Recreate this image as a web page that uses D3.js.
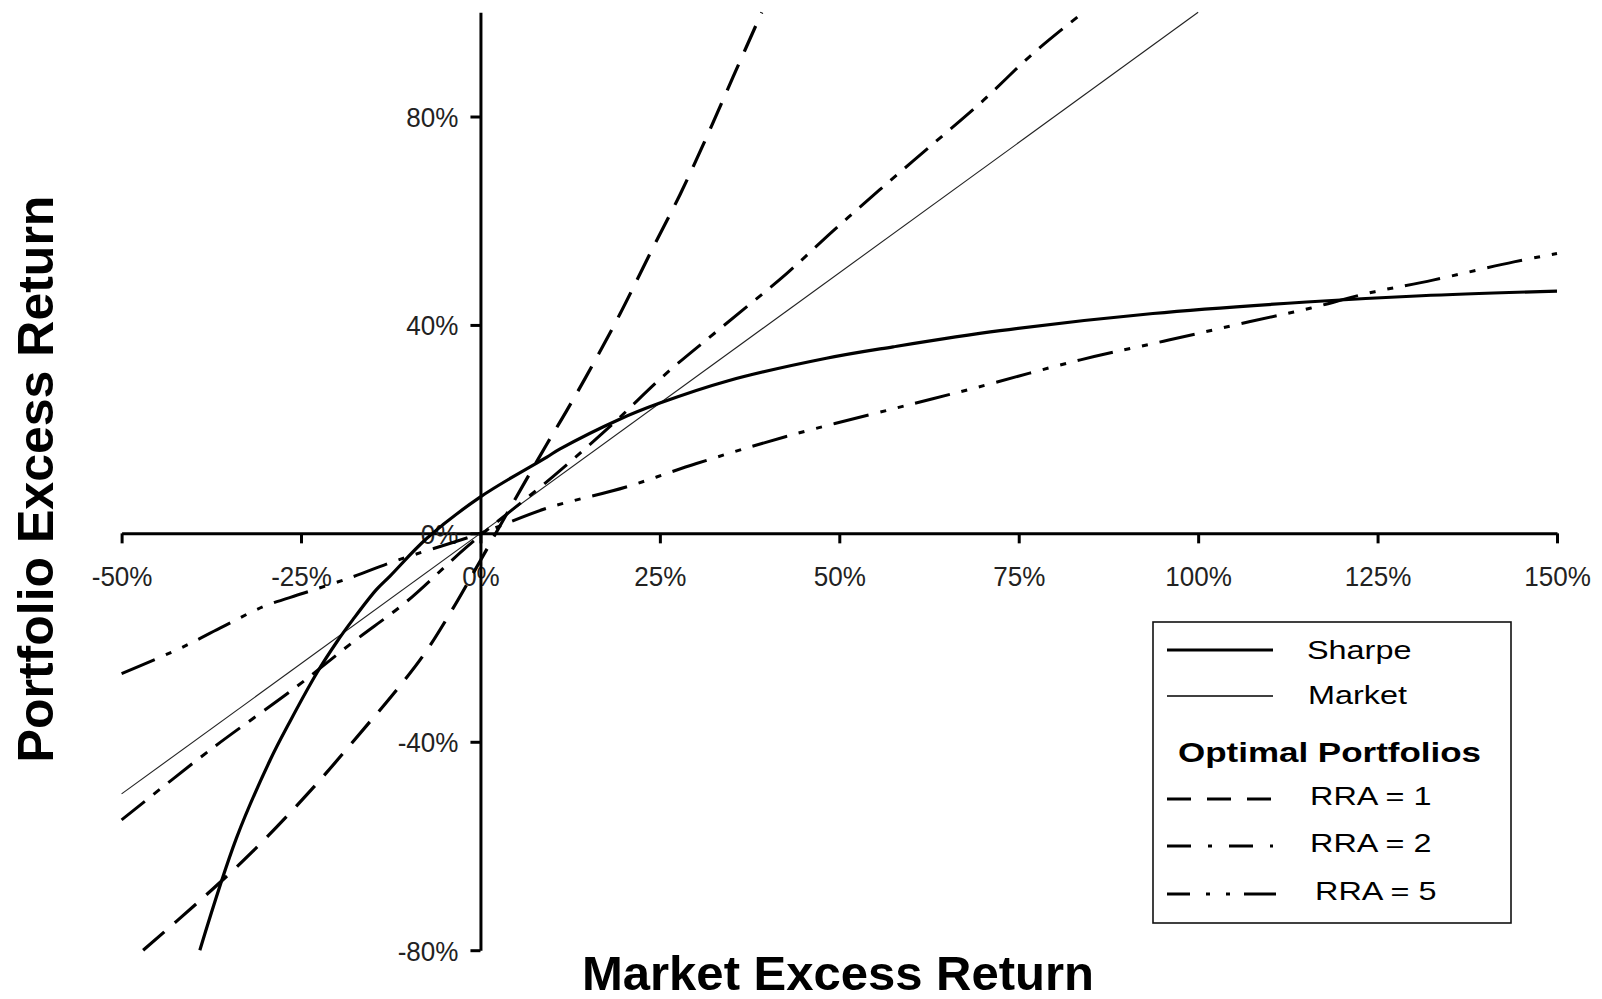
<!DOCTYPE html>
<html>
<head>
<meta charset="utf-8">
<script src="https://cdn.jsdelivr.net/npm/d3@7/dist/d3.min.js"></script>
<style>
  html, body { margin: 0; padding: 0; background: #ffffff; }
  svg { display: block; }
</style>
</head>
<body>
<svg id="chart" width="1602" height="999"></svg>
<script>
// ---------------- DATA (percent) ----------------
const xTicks = [-50, -25, 0, 25, 50, 75, 100, 125, 150];
const yTicks = [-80, -40, 0, 40, 80];

const sharpeX = [-39.1, -34.0, -29.3, -26.5, -22.8, -20.0, -17.8, -14.5, -12.6, -7.5, 0, 9.2, 11.1, 19.4, 25.0, 34.3, 48.2, 57.5, 72.4, 93.7, 115.1, 131.1, 150];
const sharpeY = [-80, -58.5, -43.5, -36.0, -26.8, -20.8, -16.6, -10.8, -8.2, -1.0, 7.0, 14.6, 16.2, 21.9, 25.0, 29.2, 33.6, 35.8, 38.9, 42.2, 44.4, 45.6, 46.5];

const marketX = [-50, 100];
const marketY = [-50, 100];

const rra1X = [-47.0, -39.1, -31.7, -23.3, -15.8, -12.6, -8.0, -4.0, 0, 4.6, 9.2, 12.0, 15.7, 19.4, 24.1, 27.8, 31.5, 35.2, 39.2];
const rra1Y = [-80, -70.5, -61.0, -48.8, -36.8, -31.6, -23.5, -14.8, -5.2, 6.0, 17.0, 23.5, 32.5, 42.0, 55.0, 65.0, 76.0, 87.6, 100];

const rra2X = [-50, -37.7, -25.6, -17.7, -10.3, -1.9, 10.1, 18.5, 25.9, 33.4, 42.7, 49.1, 55.6, 62.6, 69.6, 77.0, 84.0];
const rra2Y = [-55.0, -41.6, -29.4, -20.8, -13.1, -2.6, 10.9, 21.1, 30.7, 39.3, 49.9, 58.0, 65.9, 74.2, 82.5, 92.1, 100];

const rra5X = [-50, -41.9, -36.3, -30.3, -24.7, -17.7, -12.1, 0, 9.2, 20.3, 30.1, 42.6, 57.5, 68.6, 83.6, 95.9, 107.1, 115.6, 123.7, 132.7, 144.0, 150];
const rra5Y = [-26.9, -22.1, -18.2, -14.1, -11.5, -8.3, -5.4, 0, 4.8, 8.9, 13.4, 18.6, 23.9, 27.8, 33.3, 37.1, 40.6, 43.2, 46.1, 48.6, 52.1, 53.7];

const legendLabels = ["Sharpe", "Market", "RRA = 1", "RRA = 2", "RRA = 5"];
const legendHeading = "Optimal Portfolios";
const xTitle = "Market Excess Return";
const yTitle = "Portfolio Excess Return";

// ---------------- CHART ----------------
const svg = d3.select("#chart");
const FONT = "'Liberation Sans', Arial, Helvetica, sans-serif";

const x = d3.scaleLinear().domain([-50, 150]).range([121.6, 1557]);
const y = d3.scaleLinear().domain([-80, 100]).range([950.2, 12.3]);

function squeeze(sel, f) {
  sel.each(function () {
    const w = this.getComputedTextLength();
    this.setAttribute("textLength", (w * f).toFixed(2));
    this.setAttribute("lengthAdjust", "spacingAndGlyphs");
  });
}

// X axis
const gx = svg.append("g")
  .attr("transform", `translate(0,${y(0)})`)
  .call(d3.axisBottom(x).tickValues(xTicks).tickSize(10).tickSizeOuter(0)
    .tickFormat(d => d + "%"));
gx.select(".domain").attr("stroke", "#000").attr("stroke-width", 3);
gx.selectAll(".tick line").attr("stroke", "#000").attr("stroke-width", 3);
gx.selectAll(".tick text")
  .attr("y", 53).attr("dy", null)
  .attr("font-family", FONT).attr("font-size", 28).attr("fill", "#222");
squeeze(gx.selectAll(".tick text"), 0.93);

// Y axis
const gy = svg.append("g")
  .attr("transform", `translate(${x(0)},0)`)
  .call(d3.axisLeft(y).tickValues(yTicks).tickSize(10).tickSizeOuter(0)
    .tickFormat(d => d + "%"));
gy.select(".domain").attr("stroke", "#000").attr("stroke-width", 3);
gy.selectAll(".tick line").attr("stroke", "#000").attr("stroke-width", 3);
gy.selectAll(".tick text")
  .attr("x", -22).attr("dy", 10)
  .attr("font-family", FONT).attr("font-size", 28).attr("fill", "#222");
squeeze(gy.selectAll(".tick text"), 0.93);

// Lines
const line = d3.line().x(d => x(d[0])).y(d => y(d[1])).curve(d3.curveCatmullRom.alpha(0.5));
const zip = (a, b) => a.map((v, i) => [v, b[i]]);

const series = [
  { pts: zip(marketX, marketY), w: 1.1, dash: null, color: "#222" },
  { pts: zip(rra5X, rra5Y), w: 3, dash: "36,12,6,12,6,12", color: "#000" },
  { pts: zip(rra2X, rra2Y), w: 3, dash: "30,11,8,11", color: "#000" },
  { pts: zip(rra1X, rra1Y), w: 3.2, dash: "28,14", color: "#000" },
  { pts: zip(sharpeX, sharpeY), w: 3.2, dash: null, color: "#000" }
];
svg.append("g").selectAll("path").data(series).join("path")
  .attr("d", d => line(d.pts))
  .attr("fill", "none")
  .attr("stroke", d => d.color)
  .attr("stroke-width", d => d.w)
  .attr("stroke-dasharray", d => d.dash);

// Axis titles
svg.append("text")
  .attr("x", 838).attr("y", 990)
  .attr("text-anchor", "middle")
  .attr("font-family", FONT).attr("font-weight", "bold").attr("font-size", 49)
  .attr("fill", "#000")
  .text(xTitle);

svg.append("text")
  .attr("transform", "translate(53,479) rotate(-90)")
  .attr("text-anchor", "middle")
  .attr("font-family", FONT).attr("font-weight", "bold").attr("font-size", 50)
  .attr("fill", "#000")
  .text(yTitle);

// Legend
const lg = svg.append("g");
lg.append("rect")
  .attr("x", 1153).attr("y", 622).attr("width", 358).attr("height", 301)
  .attr("fill", "#fff").attr("stroke", "#111").attr("stroke-width", 1.6);

const legendItems = [
  { label: legendLabels[0], ly: 650, ty: 659, tx: 1307, w: 3.2, dash: null },
  { label: legendLabels[1], ly: 696, ty: 704, tx: 1308, w: 1.5, dash: null },
  { label: legendLabels[2], ly: 799, ty: 805, tx: 1310, w: 3, dash: "24,16" },
  { label: legendLabels[3], ly: 846, ty: 852, tx: 1310, w: 3, dash: "24,17,4,17" },
  { label: legendLabels[4], ly: 894, ty: 900, tx: 1315, w: 3, dash: "23,16,4,16,4,14,40" }
];
legendItems.forEach(it => {
  lg.append("line")
    .attr("x1", 1167).attr("x2", it.label === "RRA = 5" ? 1276 : 1273)
    .attr("y1", it.ly).attr("y2", it.ly)
    .attr("stroke", "#000").attr("stroke-width", it.w)
    .attr("stroke-dasharray", it.dash);
  const t = lg.append("text")
    .attr("x", it.tx).attr("y", it.ty)
    .attr("font-family", FONT).attr("font-size", 25.5).attr("fill", "#000")
    .text(it.label);
  squeeze(t, 1.27);
});
lg.append("text")
  .attr("x", 1178).attr("y", 762)
  .attr("font-family", FONT).attr("font-weight", "bold").attr("font-size", 27)
  .attr("fill", "#000")
  .attr("textLength", 303).attr("lengthAdjust", "spacingAndGlyphs")
  .text(legendHeading);
</script>
</body>
</html>
